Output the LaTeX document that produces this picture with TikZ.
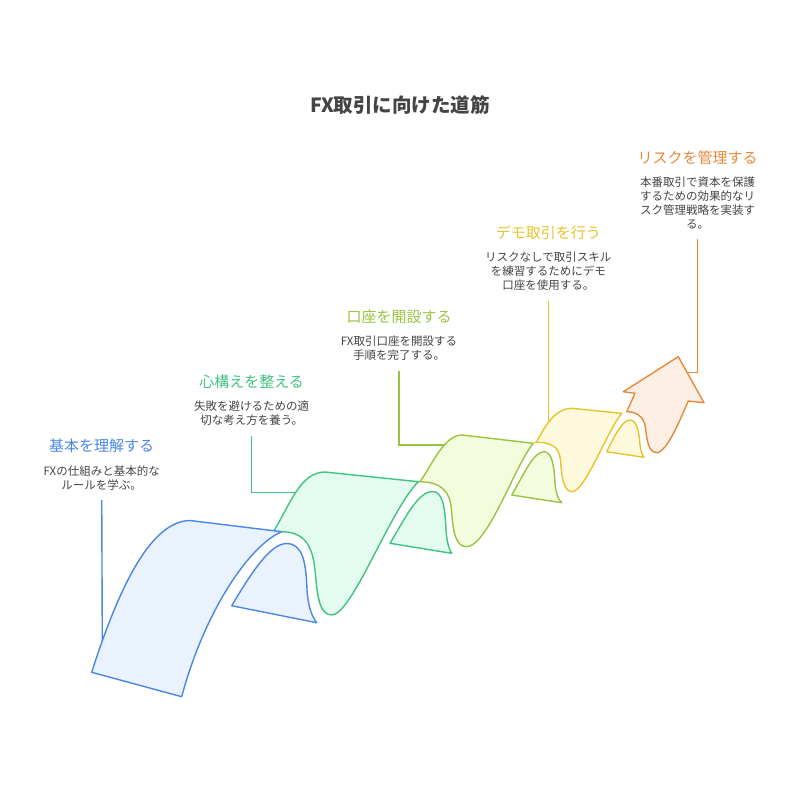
\documentclass[tikz,border=0pt]{standalone}
\usepackage{fontspec}
\setmainfont{Noto Sans CJK JP}
\usepackage{tikz}
\usetikzlibrary{positioning}

\definecolor{textgray}{HTML}{444444}
\definecolor{blueline}{HTML}{4A86E8}
\definecolor{bluefill}{HTML}{EAF2FE}
\definecolor{greenline}{HTML}{3EC47E}
\definecolor{greenfill}{HTML}{E3FCEF}
\definecolor{limeline}{HTML}{9AC440}
\definecolor{limefill}{HTML}{F3FCDD}
\definecolor{yellowline}{HTML}{E6C52A}
\definecolor{yellowfill}{HTML}{FEF9DD}
\definecolor{orangeline}{HTML}{E8893A}
\definecolor{orangefill}{HTML}{FDEFE3}

\tikzstyle{heading}=[font=\fontsize{15}{18}\selectfont, inner sep=0pt]
\tikzstyle{note}=[font=\fontsize{11.5}{14}\selectfont, text=textgray, align=center, inner sep=0pt]
\tikzstyle{link}=[line width=1.4pt, shorten <=10pt]
\tikzstyle{band}=[line width=1.4pt, line join=round]

\begin{document}
\begin{tikzpicture}[x=1pt, y=-1pt, node distance=12pt]
  \useasboundingbox (0,0) rectangle (800,800);

  \node[font=\fontsize{19.5}{24}\selectfont\bfseries, text=textgray] (title) at (400,105) {FX取引に向けた道筋};

  % labels
  \node[heading, text=blueline] (h1) at (101.7,446) {基本を理解する};
  \node[note] (d1) [below=of h1] {FXの仕組みと基本的な\\ルールを学ぶ。};
  \node[heading, text=greenline] (h2) at (251.7,381.7) {心構えを整える};
  \node[note] (d2) [below=of h2] {失敗を避けるための適\\切な考え方を養う。};
  \node[heading, text=limeline] (h3) at (399,316.7) {口座を開設する};
  \node[note] (d3) [below=of h3] {FX取引口座を開設する\\手順を完了する。};
  \node[heading, text=yellowline] (h4) at (548.3,232.7) {デモ取引を行う};
  \node[note] (d4) [below=of h4] {リスクなしで取引スキル\\を練習するためにデモ\\口座を使用する。};
  \node[heading, text=orangeline] (h5) at (697.5,157.3) {リスクを管理する};
  \node[note] (d5) [below=of h5] {本番取引で資本を保護\\するための効果的なリ\\スク管理戦略を実装す\\る。};

  \coordinate (e1) at (102.3,641);
  \coordinate (e2) at (297,492.3);
  \coordinate (e3) at (445,445);
  \coordinate (e4) at (548.3,424);
  \coordinate (e5) at (687,372.3);

  \draw[link, blueline] (d1.south) -- (e1);
  \draw[link, greenline] (d2.south) -- (d2.south |- e2) -- (e2);
  \draw[link, limeline] (d3.south) -- (d3.south |- e3) -- (e3);
  \draw[link, yellowline] (d4.south) -- (e4);
  \draw[link, orangeline] (d5.south) -- (d5.south |- e5) -- (e5);

  % arrow
  \filldraw[band, draw=orangeline, fill=orangefill] (626.7,411.7) -- (635,393.3) -- (623.3,391.7) -- (678.3,356.7) -- (704,402.7) -- (688.3,401)
    .. controls (680,420) and (667,452) .. (656.7,452.7)
    .. controls (648,452) and (647,440) .. (645.5,428)
    .. controls (644,416) and (636,411.7) .. (626.7,411.7) -- cycle;

  % demo
  \filldraw[band, draw=yellowline, fill=yellowfill] (606.7,451.7) .. controls (614,437) and (622,420) .. (630,420)
    .. controls (637,420) and (639,432) .. (640,445) .. controls (641,451) and (642,455) .. (644,457.3) -- cycle;
  \filldraw[band, draw=yellowline, fill=yellowfill] (536.7,441.7) .. controls (545,426) and (555,408.3) .. (572,408.3) -- (621.7,413.3)
    .. controls (605,435) and (585,492) .. (571.7,491.7)
    .. controls (563,491) and (561.5,475) .. (560.5,460)
    .. controls (559,446) and (550,441.7) .. (535,442.5) -- cycle;

  % account
  \filldraw[band, draw=limeline, fill=limefill] (511.7,495) .. controls (522,478) and (533,451.7) .. (544,451.7)
    .. controls (552,452) and (554,465) .. (555,483) .. controls (556,494) and (558,499) .. (561.7,502.7) -- cycle;
  \filldraw[band, draw=limeline, fill=limefill] (420,481.7) .. controls (432,465) and (444,435) .. (462,435) -- (533.3,443.3)
    .. controls (515,465) and (488,546) .. (466.7,546.7)
    .. controls (455,547) and (453,530) .. (451.5,510)
    .. controls (450,490) and (440,481.7) .. (418.3,481.7) -- cycle;

  % mindset
  \filldraw[band, draw=greenline, fill=greenfill] (390,543.3) .. controls (405,518) and (418,492) .. (432,491.5)
    .. controls (442,491) and (445,505) .. (446,530) .. controls (447,543) and (449,549) .. (451.7,553.3) -- cycle;
  \filldraw[band, draw=greenline, fill=greenfill] (273.3,531.7) .. controls (290,505) and (300,472) .. (325,472) -- (418.3,481.7)
    .. controls (390,510) and (352,615) .. (331.7,615)
    .. controls (318,615) and (317,590) .. (315,570)
    .. controls (312,540) and (300,532) .. (281.7,531.7) -- cycle;

  % basics
  \filldraw[band, draw=blueline, fill=bluefill] (231.7,605.7) .. controls (250,575) and (270,543) .. (287,543.5)
    .. controls (302,544) and (306,560) .. (307,590) .. controls (308,605) and (311,615) .. (316.7,622.7) -- cycle;
  \filldraw[band, draw=blueline, fill=bluefill] (91.7,672.3) .. controls (118,590) and (150,521) .. (190,520.5) -- (281.7,531.7)
    .. controls (250,545) and (205,610) .. (181.7,696.7) -- cycle;
\end{tikzpicture}
\end{document}
